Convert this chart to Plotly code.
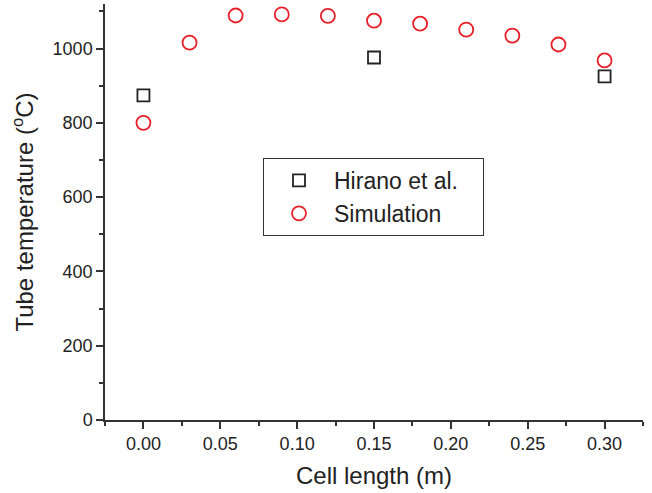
import plotly.graph_objects as go

sim_x = [0.00, 0.03, 0.06, 0.09, 0.12, 0.15, 0.18, 0.21, 0.24, 0.27, 0.30]
sim_y = [800, 1016, 1089, 1092, 1088, 1075, 1067, 1051, 1035, 1011, 968]
exp_x = [0.00, 0.15, 0.30]
exp_y = [874, 976, 925]
x_ticks = [0.00, 0.05, 0.10, 0.15, 0.20, 0.25, 0.30]
y_ticks = [0, 200, 400, 600, 800, 1000]
series_names = ["Hirano et al.", "Simulation"]

font_family = "Liberation Sans, Arial, sans-serif"
ink = "#222222"
axis_col = "#333333"
pad = "\u00a0" * 3  # widen legend box to match reference

fig = go.Figure()
fig.add_trace(go.Scatter(
    x=exp_x, y=exp_y, mode="markers", name=series_names[0] + pad,
    marker=dict(symbol="square-open", size=12, color="#222222", line=dict(width=1.8)),
))
fig.add_trace(go.Scatter(
    x=sim_x, y=sim_y, mode="markers", name=series_names[1],
    marker=dict(symbol="circle-open", size=14, color="#e8202a", line=dict(width=1.8)),
))

fig.update_layout(
    width=652, height=493,
    margin=dict(l=105, r=9, t=4, b=73),
    paper_bgcolor="white", plot_bgcolor="white",
    font=dict(family=font_family, color=ink, size=18),
    showlegend=True,
    legend=dict(
        x=(263 - 105) / 538, y=(420 - 158) / 416, xanchor="left", yanchor="top",
        bgcolor="white", bordercolor=axis_col, borderwidth=1,
        font=dict(size=23, family=font_family, color=ink),
        itemwidth=60, tracegroupgap=0,
    ),
)
fig.update_xaxes(
    range=[-0.025, 0.325], tickvals=x_ticks, ticktext=[f"{v:.2f}" for v in x_ticks],
    showgrid=False, zeroline=False, showline=True, linecolor=axis_col, linewidth=1.5,
    ticks="outside", ticklen=7, tickwidth=1.5, tickcolor=axis_col,
    minor=dict(tickvals=[-0.025, 0.025, 0.075, 0.125, 0.175, 0.225, 0.275, 0.325],
               ticks="outside", ticklen=4, tickwidth=1.5, tickcolor=axis_col),
    tickfont=dict(size=18), automargin=False,
    title=dict(text="Cell length (m)", font=dict(size=24), standoff=14),
)
fig.update_yaxes(
    range=[0, 1120], tickvals=y_ticks,
    showgrid=False, zeroline=False, showline=True, linecolor=axis_col, linewidth=1.5,
    ticks="outside", ticklen=7, tickwidth=1.5, tickcolor=axis_col,
    minor=dict(tickvals=[100, 300, 500, 700, 900, 1100],
               ticks="outside", ticklen=4, tickwidth=1.5, tickcolor=axis_col),
    tickfont=dict(size=18), automargin=False,
    title=dict(text="Tube temperature (<sup>o</sup>C)", font=dict(size=24), standoff=12),
)

fig.write_html(
    "out.html",
    config={"displayModeBar": False},
    post_script="document.body.style.margin='0';document.body.style.padding='0';",
)
